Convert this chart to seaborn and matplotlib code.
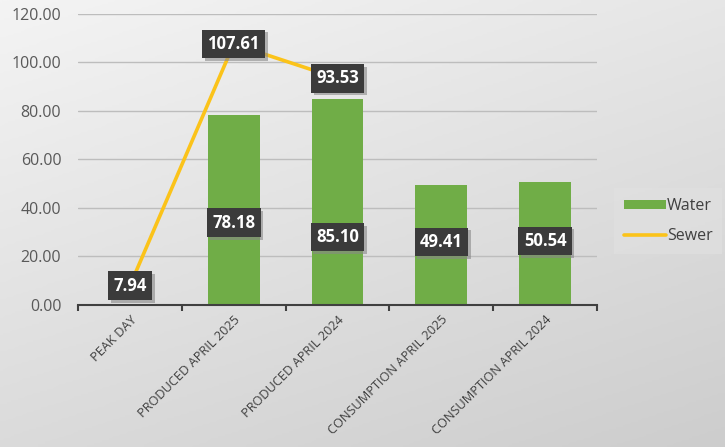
import numpy as np
import pandas as pd
import matplotlib
matplotlib.use("Agg")
import matplotlib.pyplot as plt
import matplotlib.patheffects as pe
from matplotlib.lines import Line2D
from matplotlib.patches import Patch
import seaborn as sns

# ---- data ----
categories = ["PEAK DAY", "PRODUCED APRIL 2025", "PRODUCED APRIL 2024",
              "CONSUMPTION APRIL 2025", "CONSUMPTION APRIL 2024"]
water = [np.nan, 78.18, 85.10, 49.41, 50.54]
sewer = [7.94, 107.61, 93.53, np.nan, np.nan]
y_ticks = [0, 20, 40, 60, 80, 100, 120]

# ---- layout (label heights for water labels, in data units) ----
water_label_y = [np.nan, 34.0, 28.0, 26.0, 26.4]

sns.set_theme(style="white")
plt.rcParams["font.family"] = ["Open Sans", "DejaVu Sans"]

fig = plt.figure(figsize=(7.25, 4.47), dpi=100)

# gradient background
bg = fig.add_axes([0, 0, 1, 1], zorder=-10)
xx, yy = np.meshgrid(np.linspace(0, 1, 200), np.linspace(0, 1, 200))
grad = 0.35 * xx + 0.65 * yy
bg.imshow(grad, cmap=matplotlib.colors.LinearSegmentedColormap.from_list(
    "g", ["#f4f4f4", "#cdcdcd"]), extent=[0, 1, 0, 1], aspect="auto",
    vmin=0, vmax=1, origin="upper")
bg.set_axis_off()

ax = fig.add_axes([0.1076, 0.3177, 0.7158, 0.651])
ax.set_facecolor("none")

df = pd.DataFrame({"category": categories, "Water": water, "Sewer": sewer,
                   "pos": np.arange(len(categories))})
dfw = df.dropna(subset=["Water"])
sns.barplot(data=dfw, x="category", y="Water", order=categories,
            color="#70AD47", saturation=1, width=0.5, ax=ax, zorder=2,
            linewidth=0, edgecolor="none")
dfs = df.dropna(subset=["Sewer"])
sns.lineplot(data=dfs, x="pos", y="Sewer", color="#FBC31A", lw=2.6,
             ax=ax, zorder=3, sort=False)

ax.set_xlim(-0.5, len(categories) - 0.5)
ax.set_ylim(0, 120)
ax.set_yticks(y_ticks)
ax.set_yticklabels([f"{v:.2f}" for v in y_ticks], color="#595959", fontsize=11.5)
ax.yaxis.grid(True, color="#bdbdbd", lw=1)
ax.set_axisbelow(True)
ax.set_xlabel("")
ax.set_ylabel("")
for s in ["top", "right", "left"]:
    ax.spines[s].set_visible(False)
ax.spines["bottom"].set_color("#404040")
ax.spines["bottom"].set_linewidth(1.5)
ax.tick_params(axis="y", length=0, pad=12)

ax.set_xticks(np.arange(len(categories)))
ax.set_xticklabels(categories, rotation=45, ha="right", rotation_mode="anchor",
                   color="#404040", fontsize=9.2)
ax.tick_params(axis="x", which="major", length=0, pad=6)
ax.set_xticks(np.arange(len(categories) + 1) - 0.5, minor=True)
ax.tick_params(axis="x", which="minor", length=4, width=1.5, color="#404040",
               direction="out", bottom=True)

def label(x, y, txt):
    t = ax.text(x, y, txt, ha="center", va="center", color="white",
                fontsize=12, fontweight="bold", zorder=6,
                bbox=dict(boxstyle="square,pad=0.32", fc="#3b3b3b", ec="none"))
    t.get_bbox_patch().set_path_effects(
        [pe.SimplePatchShadow(offset=(2, -2), shadow_rgbFace="#888888", alpha=0.6),
         pe.Normal()])

for i, (w, ly) in enumerate(zip(water, water_label_y)):
    if not np.isnan(w):
        label(i, ly, f"{w:.2f}")
for i, s in enumerate(sewer):
    if not np.isnan(s):
        label(i, s, f"{s:.2f}")

handles = [Patch(facecolor="#70AD47", edgecolor="none", label="Water"),
           Line2D([0], [0], color="#FBC31A", lw=2.6, label="Sewer")]
leg = fig.legend(handles=handles, loc="center", bbox_to_anchor=(0.922, 0.505),
                 frameon=True, fontsize=11.5, handlelength=2.6, handleheight=0.5,
                 labelspacing=0.9, borderpad=0.6, handletextpad=0.1, fancybox=False)
leg.get_frame().set_facecolor("#e0e0e0")
leg.get_frame().set_edgecolor("none")
leg.get_frame().set_alpha(0.7)
for t in leg.get_texts():
    t.set_color("#404040")

fig.savefig("out.png", dpi=100)
